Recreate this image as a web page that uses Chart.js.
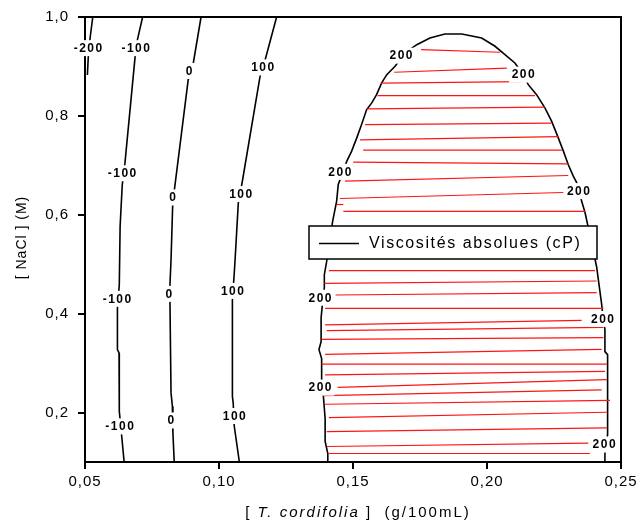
<!DOCTYPE html>
<html>
<head>
<meta charset="utf-8">
<script src="https://cdn.jsdelivr.net/npm/chart.js@4"></script>
<style>
html,body{margin:0;padding:0;background:#fff;}
canvas{display:block;}
</style>
</head>
<body>
<canvas id="c" width="638" height="523"></canvas>
<script>
// ---------- DATA ----------
const xTicks = [0.05, 0.10, 0.15, 0.20, 0.25];
const yTicks = [0.2, 0.4, 0.6, 0.8, 1.0];

// Contour lines of absolute viscosity (cP): [x (g/100mL), y (M)]
const contourM200 = [[0.0529,1.0],[0.0519,0.9576],[0.0512,0.9172],[0.0509,0.8828]];
const contourM100 = [[0.0715,1.0],[0.0694,0.9501],[0.0687,0.9198],[0.0649,0.7044],[0.0639,0.6606],[0.0631,0.5764],
  [0.0628,0.4586],[0.0621,0.4115],[0.0621,0.3273],[0.0627,0.3206],[0.0628,0.2026],[0.0637,0.1521],[0.0646,0.1]];
const contour0 = [[0.0933,1.0],[0.0904,0.9065],[0.0885,0.8727],[0.0832,0.6438],[0.0827,0.6168],[0.0821,0.5091],
  [0.0817,0.4586],[0.0817,0.4242],[0.0821,0.2398],[0.0826,0.2127],[0.0828,0.1590],[0.0833,0.1]];
const contour100 = [[0.1215,1.0],[0.1172,0.9131],[0.1153,0.8794],[0.1087,0.6673],[0.1072,0.6236],[0.1060,0.5091],
  [0.1057,0.4822],[0.1050,0.4283],[0.1050,0.2329],[0.1053,0.2196],[0.1057,0.1723],[0.1076,0.1]];
const contour200 = [[0.1406,0.1],[0.1406,0.1172],[0.1396,0.1414],[0.1396,0.1879],[0.1389,0.2364],[0.1383,0.2626],
  [0.1383,0.3091],[0.1373,0.3273],[0.1381,0.3434],[0.1381,0.3919],[0.1385,0.4141],[0.1393,0.4525],[0.1393,0.4788],
  [0.1401,0.5030],[0.1424,0.5865],[0.1439,0.6277],[0.1445,0.6612],[0.1463,0.6869],[0.1477,0.7085],[0.1495,0.7287],
  [0.1514,0.7556],[0.1532,0.7824],[0.1551,0.8127],[0.1570,0.8263],[0.1588,0.8430],[0.1607,0.8667],[0.1626,0.8834],
  [0.1657,0.9004],[0.1694,0.9273],[0.1738,0.9440],[0.1787,0.9576],[0.1843,0.9657],[0.1906,0.9657],[0.1980,0.9576],
  [0.2030,0.9408],[0.2104,0.9071],[0.2131,0.8869],[0.2154,0.8632],[0.2185,0.8430],[0.2216,0.8162],[0.2241,0.7893],
  [0.2266,0.7556],[0.2285,0.7287],[0.2303,0.7016],[0.2322,0.6782],[0.2335,0.6646],[0.2345,0.6465],[0.2353,0.6277],
  [0.2366,0.6040],[0.2374,0.5838],[0.2409,0.4949],[0.2418,0.4586],[0.2428,0.4182],[0.2433,0.3919],[0.2440,0.3677],
  [0.2440,0.3232],[0.2450,0.3172],[0.2450,0.1556],[0.2440,0.1172],[0.2440,0.1]];

// Contour labels
const labelText = ['-200','-100','-100','-100','-100','0','0','0','0','100','100','100','100',
  '200','200','200','200','200','200','200','200'];
const labelX = [0.0511,0.0689,0.0638,0.0619,0.0629,0.0888,0.0827,0.0813,0.0820,0.1163,0.1081,0.1050,0.1057,
  0.1679,0.2135,0.1451,0.2341,0.1377,0.2431,0.1377,0.2437];
const labelY = [0.937,0.937,0.684,0.430,0.172,0.891,0.635,0.440,0.184,0.898,0.642,0.446,0.193,
  0.9218,0.8834,0.6869,0.6479,0.4323,0.3893,0.2505,0.1354];

// Red hatching inside the 200 cP region: left/right x and left/right y of each stroke
const hatchX1 = [0.1754,0.1654,0.1604,0.1592,0.1551,0.1545,0.1526,0.1538,0.1501,0.1470,0.1451,0.1439,0.1464,
  0.1410,0.1393,0.1435,0.1396,0.1396,0.1402,0.1383,0.1396,0.1383,0.1396,0.1443,0.1389,0.1396,0.1410,0.1402,0.1402,0.1408];
const hatchX2 = [0.2049,0.2074,0.2129,0.2179,0.2216,0.2241,0.2266,0.2279,0.2303,0.2303,0.2285,0.1464,0.2366,
  0.2403,0.2409,0.2409,0.2434,0.2353,0.2434,0.2434,0.2428,0.2447,0.2440,0.2447,0.2428,0.2459,0.2447,0.2447,0.2378,0.2384];
const hatchY1 = [0.9339,0.8883,0.8661,0.8410,0.8141,0.7824,0.7515,0.7307,0.7065,0.6681,0.6329,0.6208,0.6067,
  0.4869,0.4612,0.4378,0.4107,0.3772,0.3657,0.3481,0.3178,0.2980,0.2762,0.2511,0.2343,0.2168,0.1899,0.1616,0.1313,0.1172];
const hatchY2 = [0.9287,0.8964,0.8693,0.8410,0.8176,0.7853,0.7582,0.7307,0.7030,0.6794,0.6451,0.6208,0.6067,
  0.4869,0.4661,0.4424,0.4107,0.3865,0.3723,0.3515,0.3279,0.2980,0.2834,0.2667,0.2459,0.2248,0.2006,0.1691,0.1380,0.1172];

const legendLabel = 'Viscosités absolues (cP)';
const yTitle = '[ NaCl ] (M)';
const xTitleParts = ['[ ', 'T. cordifolia', ' ]  (g/100mL)'];

// ---------- CHART ----------
const FONT = '"Liberation Sans", Arial, Helvetica, sans-serif';
const toPts = arr => arr.map(p => ({x: p[0], y: p[1]}));

const datasets = [];
hatchX1.forEach((_, i) => {
  datasets.push({
    data: [{x: hatchX1[i], y: hatchY1[i]}, {x: hatchX2[i], y: hatchY2[i]}],
    showLine: true, pointRadius: 0, borderColor: 'rgb(255,20,20)', borderWidth: 1.2, fill: false
  });
});
[contourM200, contourM100, contour0, contour100, contour200].forEach(c => {
  datasets.push({
    data: toPts(c), showLine: true, pointRadius: 0, borderColor: '#000', borderWidth: 1.6, fill: false
  });
});

const decor = {
  id: 'decor',
  beforeLayout(chart){ chart.ctx.letterSpacing = '1px'; },
  beforeDraw(chart){ chart.ctx.letterSpacing = '1px'; },
  beforeDatasetsDraw(chart){
    const {ctx, chartArea: a} = chart;
    ctx.save();
    ctx.strokeStyle = '#000'; ctx.lineWidth = 2;
    ctx.strokeRect(a.left, a.top, a.right - a.left, a.bottom - a.top);
    ctx.restore();
  },
  afterDatasetsDraw(chart){
    const {ctx, chartArea: a, scales} = chart;
    const xs = scales.x, ys = scales.y;
    ctx.save();
    // contour labels
    ctx.font = 'bold 12px ' + FONT;
    ctx.letterSpacing = '1.5px';
    ctx.textAlign = 'center'; ctx.textBaseline = 'middle';
    labelText.forEach((t, i) => {
      const px = xs.getPixelForValue(labelX[i]);
      const py = ys.getPixelForValue(labelY[i]);
      const w = ctx.measureText(t).width;
      ctx.fillStyle = '#fff';
      ctx.fillRect(px - w/2 - 2, py - 8, w + 4, 16);
      ctx.fillStyle = '#000';
      ctx.fillText(t, px + 0.75, py + 0.5);
    });
    // legend box
    const lx = a.left + 224, ly = a.top + 209, lw = 288, lh = 33;
    ctx.fillStyle = '#fff';
    ctx.fillRect(lx, ly, lw, lh);
    ctx.strokeStyle = '#000'; ctx.lineWidth = 1.5;
    ctx.strokeRect(lx, ly, lw, lh);
    ctx.beginPath();
    ctx.moveTo(lx + 10, ly + lh/2 + 1); ctx.lineTo(lx + 50, ly + lh/2 + 1);
    ctx.lineWidth = 1.5; ctx.stroke();
    ctx.font = '16px ' + FONT;
    ctx.letterSpacing = '1.6px';
    ctx.textAlign = 'left'; ctx.textBaseline = 'middle';
    ctx.fillStyle = '#000';
    ctx.fillText(legendLabel, lx + 60, ly + lh/2 + 1);
    ctx.restore();
  },
  afterDraw(chart){
    const {ctx, chartArea: a} = chart;
    ctx.save();
    ctx.fillStyle = '#000';
    // x title with italic species name
    ctx.letterSpacing = '2px';
    ctx.textBaseline = 'alphabetic'; ctx.textAlign = 'left';
    const fonts = ['15px ' + FONT, 'italic 15px ' + FONT, '15px ' + FONT];
    let widths = xTitleParts.map((t, i) => { ctx.font = fonts[i]; return ctx.measureText(t).width; });
    const total = widths.reduce((s, v) => s + v, 0);
    let x = (a.left + a.right) / 2 - total / 2 + 5;
    xTitleParts.forEach((t, i) => { ctx.font = fonts[i]; ctx.fillText(t, x, 517); x += widths[i]; });
    // y title
    ctx.letterSpacing = '1px';
    ctx.font = '14px ' + FONT;
    ctx.translate(22, (a.top + a.bottom) / 2 - 2);
    ctx.rotate(-Math.PI / 2);
    ctx.textAlign = 'center'; ctx.textBaseline = 'middle';
    ctx.fillText(yTitle, 0, 0);
    ctx.restore();
  }
};

new Chart(document.getElementById('c'), {
  type: 'scatter',
  data: { datasets },
  options: {
    responsive: false,
    animation: false,
    devicePixelRatio: 1,
    layout: { padding: { left: 0, top: 17, right: 17, bottom: 0 } },
    plugins: { legend: { display: false }, tooltip: { enabled: false } },
    scales: {
      x: {
        type: 'linear', min: 0.05, max: 0.25,
        afterBuildTicks: s => { s.ticks = xTicks.map(v => ({value: v})); },
        afterFit: s => { s.height = 61; s.paddingLeft = 0; s.paddingRight = 0; },
        ticks: { callback: v => v.toFixed(2).replace('.', ','), color: '#000', font: {family: FONT, size: 15}, padding: 4, maxRotation: 0, autoSkip: false },
        grid: { drawOnChartArea: false, drawTicks: true, tickLength: 7, color: '#000', lineWidth: 2 },
        border: { display: true, color: '#000', width: 2 }
      },
      y: {
        type: 'linear', min: 0.1, max: 1.0,
        afterBuildTicks: s => { s.ticks = yTicks.map(v => ({value: v})); },
        afterFit: s => { s.width = 85; s.paddingTop = 0; s.paddingBottom = 0; },
        ticks: { callback: v => v.toFixed(1).replace('.', ','), color: '#000', font: {family: FONT, size: 15}, padding: 9, autoSkip: false },
        grid: { drawOnChartArea: false, drawTicks: true, tickLength: 7, color: '#000', lineWidth: 2 },
        border: { display: true, color: '#000', width: 2 }
      }
    }
  },
  plugins: [decor]
});
</script>
</body>
</html>
